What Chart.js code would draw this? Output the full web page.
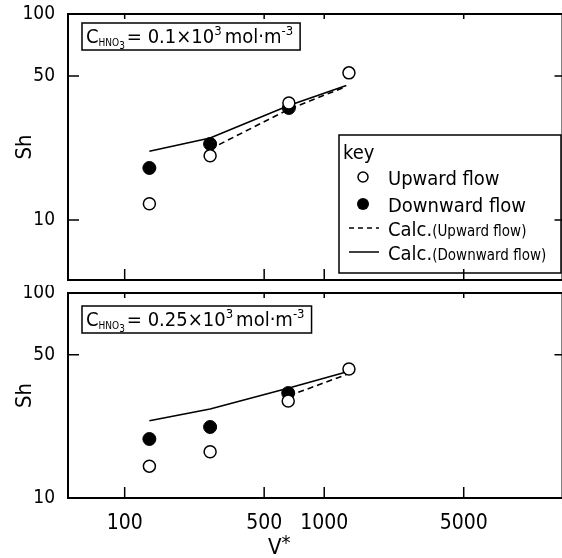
<!DOCTYPE html>
<html>
<head>
<meta charset="utf-8">
<script src="https://cdn.jsdelivr.net/npm/chart.js@4.4.1/dist/chart.umd.min.js"></script>
<style>
  html, body { margin: 0; padding: 0; background: #fff; overflow: hidden; width: 562px; height: 558px; }
  canvas { position: absolute; left: 0; }
  #topChart { top: 0; }
  #bottomChart { top: 285px; }
</style>
</head>
<body>
<canvas id="topChart" width="570" height="290"></canvas>
<canvas id="bottomChart" width="570" height="273"></canvas>
<script>
const FONT = '"DejaVu Sans Condensed", "DejaVu Sans", sans-serif';

// axis ticks
const xTicks = [100, 500, 1000, 5000];
const yTicks = [10, 50, 100];

// top panel: C_HNO3 = 0.1x10^3 mol/m3
const vUpTop = [133, 268, 665, 1330];
const shUpTop = [12.0, 20.5, 37.0, 51.8];
const vDownTop = [133, 268, 665];
const shDownTop = [17.9, 23.4, 35.0];
const vCalcUpTop = [268, 665, 1290];
const shCalcUpTop = [22.1, 34.5, 44.5];
const vCalcDownTop = [133, 268, 665, 1290];
const shCalcDownTop = [21.6, 25.0, 36.0, 45.0];

// bottom panel: C_HNO3 = 0.25x10^3 mol/m3
const vUpBot = [133, 268, 660, 1330];
const shUpBot = [14.3, 16.8, 29.7, 42.6];
const vDownBot = [133, 268, 660];
const shDownBot = [19.4, 22.2, 32.5];
const vCalcUpBot = [665, 1290];
const shCalcUpBot = [31.5, 40.0];
const vCalcDownBot = [133, 268, 665, 1290];
const shCalcDownBot = [23.8, 27.2, 34.4, 41.2];

const pts = (xs, ys) => xs.map((x, i) => ({ x: x, y: ys[i] }));

function makeDatasets(vUp, shUp, vDown, shDown, vCu, shCu, vCd, shCd) {
    return [
        {
            label: 'Upward flow',
            data: pts(vUp, shUp),
            pointRadius: 6,
            pointBackgroundColor: '#fff',
            pointBorderColor: '#000',
            pointBorderWidth: 1.5,
            showLine: false
        },
        {
            label: 'Downward flow',
            data: pts(vDown, shDown),
            pointRadius: 6.5,
            pointBackgroundColor: '#000',
            pointBorderColor: '#000',
            pointBorderWidth: 1,
            showLine: false
        },
        {
            label: 'Calc. (Upward flow)',
            data: pts(vCu, shCu),
            showLine: true,
            borderColor: '#000',
            borderWidth: 1.6,
            borderDash: [6, 4],
            pointRadius: 0
        },
        {
            label: 'Calc. (Downward flow)',
            data: pts(vCd, shCd),
            showLine: true,
            borderColor: '#000',
            borderWidth: 1.6,
            pointRadius: 0
        }
    ];
}

// draw a run of text pieces with sub/superscripts
function drawRich(ctx, x, y, parts) {
    parts.forEach(p => {
        ctx.font = p.size + 'px ' + FONT;
        ctx.fillText(p.t, x, y + (p.dy || 0));
        x += ctx.measureText(p.t).width + (p.gap || 0);
    });
    return x;
}

const framePlugin = {
    id: 'frame',
    afterDraw(chart, args, opts) {
        const { ctx, chartArea: a, scales: { x, y } } = chart;
        ctx.save();
        ctx.strokeStyle = '#000';
        ctx.fillStyle = '#000';
        ctx.lineWidth = 2;
        ctx.strokeRect(a.left, a.top, a.right - a.left, a.bottom - a.top);

        // inward tick marks
        ctx.lineWidth = 1.5;
        ctx.beginPath();
        xTicks.forEach(v => {
            const px = x.getPixelForValue(v);
            ctx.moveTo(px, a.bottom); ctx.lineTo(px, a.bottom - 11);
            ctx.moveTo(px, a.top); ctx.lineTo(px, a.top + 5);
        });
        opts.yMarks.forEach(v => {
            const py = y.getPixelForValue(v);
            ctx.moveTo(a.left, py); ctx.lineTo(a.left + 11, py);
            ctx.moveTo(a.right, py); ctx.lineTo(a.right - 8, py);
        });
        ctx.stroke();

        // concentration box
        const b = opts.box;
        ctx.textBaseline = 'alphabetic';
        const endX = drawRich(ctx, a.left + 18, a.top + b.base, opts.label);
        ctx.lineWidth = 1.5;
        ctx.strokeRect(a.left + 14, a.top + b.top, endX - a.left - 10, b.h);

        // key
        if (opts.key) {
            const kx = 339, ky = 135;
            ctx.lineWidth = 1.5;
            ctx.strokeRect(kx, ky, 222, 138);
            ctx.font = '20px ' + FONT;
            ctx.fillText('key', kx + 4, ky + 24);
            ctx.fillText('Upward flow', kx + 49, ky + 50);
            ctx.fillText('Downward flow', kx + 49, ky + 77);
            ctx.beginPath();
            ctx.arc(kx + 24, ky + 42, 5, 0, Math.PI * 2);
            ctx.lineWidth = 1.5;
            ctx.stroke();
            ctx.beginPath();
            ctx.arc(kx + 24, ky + 69, 6, 0, Math.PI * 2);
            ctx.fill();
            ctx.setLineDash([5, 4]);
            ctx.beginPath();
            ctx.moveTo(kx + 10, ky + 93); ctx.lineTo(kx + 40, ky + 93);
            ctx.stroke();
            ctx.setLineDash([]);
            ctx.beginPath();
            ctx.moveTo(kx + 10, ky + 117); ctx.lineTo(kx + 40, ky + 117);
            ctx.stroke();
            drawRich(ctx, kx + 49, ky + 101, [{ t: 'Calc.', size: 20 }, { t: '(Upward flow)', size: 15 }]);
            drawRich(ctx, kx + 49, ky + 125, [{ t: 'Calc.', size: 20 }, { t: '(Downward flow)', size: 15 }]);
        }

        // x axis title V*
        if (opts.xTitle) {
            drawRich(ctx, 268, 269, [{ t: 'V', size: 22 }, { t: '*', size: 20, dy: -5 }]);
        }
        ctx.restore();
    }
};

function concLabel(num) {
    return [
        { t: 'C', size: 20 },
        { t: 'HNO', size: 10, dy: 3 },
        { t: '3', size: 10, dy: 6, gap: 2 },
        { t: '= ' + num + '×10', size: 20 },
        { t: '3', size: 13, dy: -8, gap: 3 },
        { t: 'mol·m', size: 20 },
        { t: '-3', size: 13, dy: -8, gap: 3 }
    ];
}

function makeOptions(cfg) {
    return {
        responsive: false,
        devicePixelRatio: 1,
        animation: false,
        layout: { padding: cfg.padding },
        plugins: {
            legend: { display: false },
            tooltip: { enabled: false },
            frame: cfg.frame
        },
        scales: {
            x: {
                type: 'logarithmic',
                min: 52,
                max: 15630,
                display: cfg.showX,
                grid: { display: false },
                border: { display: false },
                afterBuildTicks: s => { s.ticks = xTicks.map(v => ({ value: v })); },
                afterFit: s => {
                    s.height = cfg.showX ? 60 : 0;
                    s.paddingLeft = 0; s.paddingRight = 0;
                },
                ticks: {
                    color: '#000',
                    padding: 5,
                    maxRotation: 0,
                    font: { family: FONT, size: 21 },
                    callback: v => String(v)
                }
            },
            y: {
                type: 'logarithmic',
                min: cfg.yMin,
                max: 100,
                grid: { display: false },
                border: { display: false },
                afterBuildTicks: s => { s.ticks = yTicks.map(v => ({ value: v })); },
                afterFit: s => {
                    s.width = 56;
                    s.paddingTop = 0; s.paddingBottom = 0;
                },
                ticks: {
                    color: '#000',
                    padding: 5,
                    font: { family: FONT, size: 19 },
                    callback: v => String(v)
                },
                title: {
                    display: true,
                    text: 'Sh',
                    color: '#000',
                    padding: { top: 0, bottom: 0 },
                    font: { family: FONT, size: 22 }
                }
            }
        }
    };
}

new Chart(document.getElementById('topChart'), {
    type: 'scatter',
    data: { datasets: makeDatasets(vUpTop, shUpTop, vDownTop, shDownTop, vCalcUpTop, shCalcUpTop, vCalcDownTop, shCalcDownTop) },
    options: makeOptions({
        padding: { left: 12, top: 14, right: 4, bottom: 10 },
        showX: false,
        yMin: 5.12,
        frame: { yMarks: [10, 50], box: { top: 9, h: 27, base: 29 }, label: concLabel('0.1'), key: true }
    }),
    plugins: [framePlugin]
});

new Chart(document.getElementById('bottomChart'), {
    type: 'scatter',
    data: { datasets: makeDatasets(vUpBot, shUpBot, vDownBot, shDownBot, vCalcUpBot, shCalcUpBot, vCalcDownBot, shCalcDownBot) },
    options: makeOptions({
        padding: { left: 12, top: 8, right: 4, bottom: 0 },
        showX: true,
        yMin: 10,
        frame: { yMarks: [50], box: { top: 13, h: 27, base: 33 }, label: concLabel('0.25'), xTitle: true }
    }),
    plugins: [framePlugin]
});
</script>
</body>
</html>
